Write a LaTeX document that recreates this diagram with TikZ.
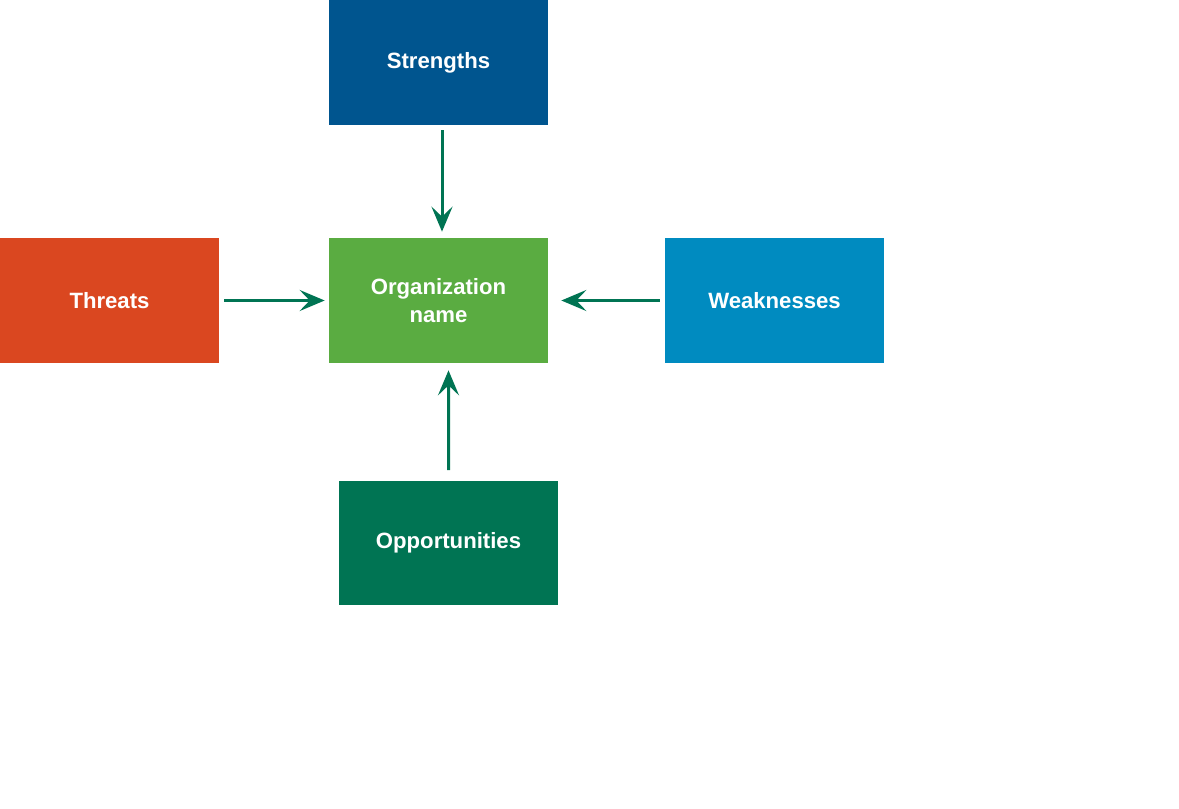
\documentclass[tikz,border=0pt]{standalone}
\usepackage{fontspec}
\setmainfont{Liberation Sans}
\usetikzlibrary{arrows.meta}
\definecolor{strength}{RGB}{0,85,143}
\definecolor{threat}{RGB}{218,71,32}
\definecolor{weakness}{RGB}{0,139,192}
\definecolor{orgname}{RGB}{90,172,65}
\definecolor{opportunity}{RGB}{0,116,83}
\begin{document}
\begin{tikzpicture}[x=0.02cm,y=-0.02cm,
    >={Stealth[length=0.5cm,width=0.42cm,inset=0.2cm]},
    box/.style={minimum width=4.38cm,minimum height=2.5cm,inner sep=0pt,
      text=white,align=center,font=\fontsize{12.6}{16}\selectfont\bfseries},
    link/.style={->,line width=0.06cm,draw=opportunity}]
    \useasboundingbox (0,0) rectangle (1179,808);

    \node[box,fill=strength]    (str) at (438.5,62.5)  {Strengths};
    \node[box,fill=orgname]     (org) at (438.5,300.5) {Organization\\name};
    \node[box,fill=threat]      (thr) at (109.5,300.5) {Threats};
    \node[box,fill=weakness]    (wea) at (774.5,300.5) {Weaknesses};
    \node[box,fill=opportunity] (opp) at (448.5,543)   {Opportunities};

    \draw[link,shorten <=0.1cm,shorten >=0.12cm]
    ([xshift=0.07cm]str.south) -- ([xshift=0.07cm]org.north);
    \draw[link,shorten <=0.1cm,shorten >=0.08cm] (thr) -- (org);
    \draw[link,shorten <=0.1cm,shorten >=0.26cm] (wea) -- (org);
    \draw[link,shorten <=0.2cm,shorten >=0.14cm]
    (opp.north) -- ([xshift=0.2cm]org.south);
  \end{tikzpicture}
\end{document}
